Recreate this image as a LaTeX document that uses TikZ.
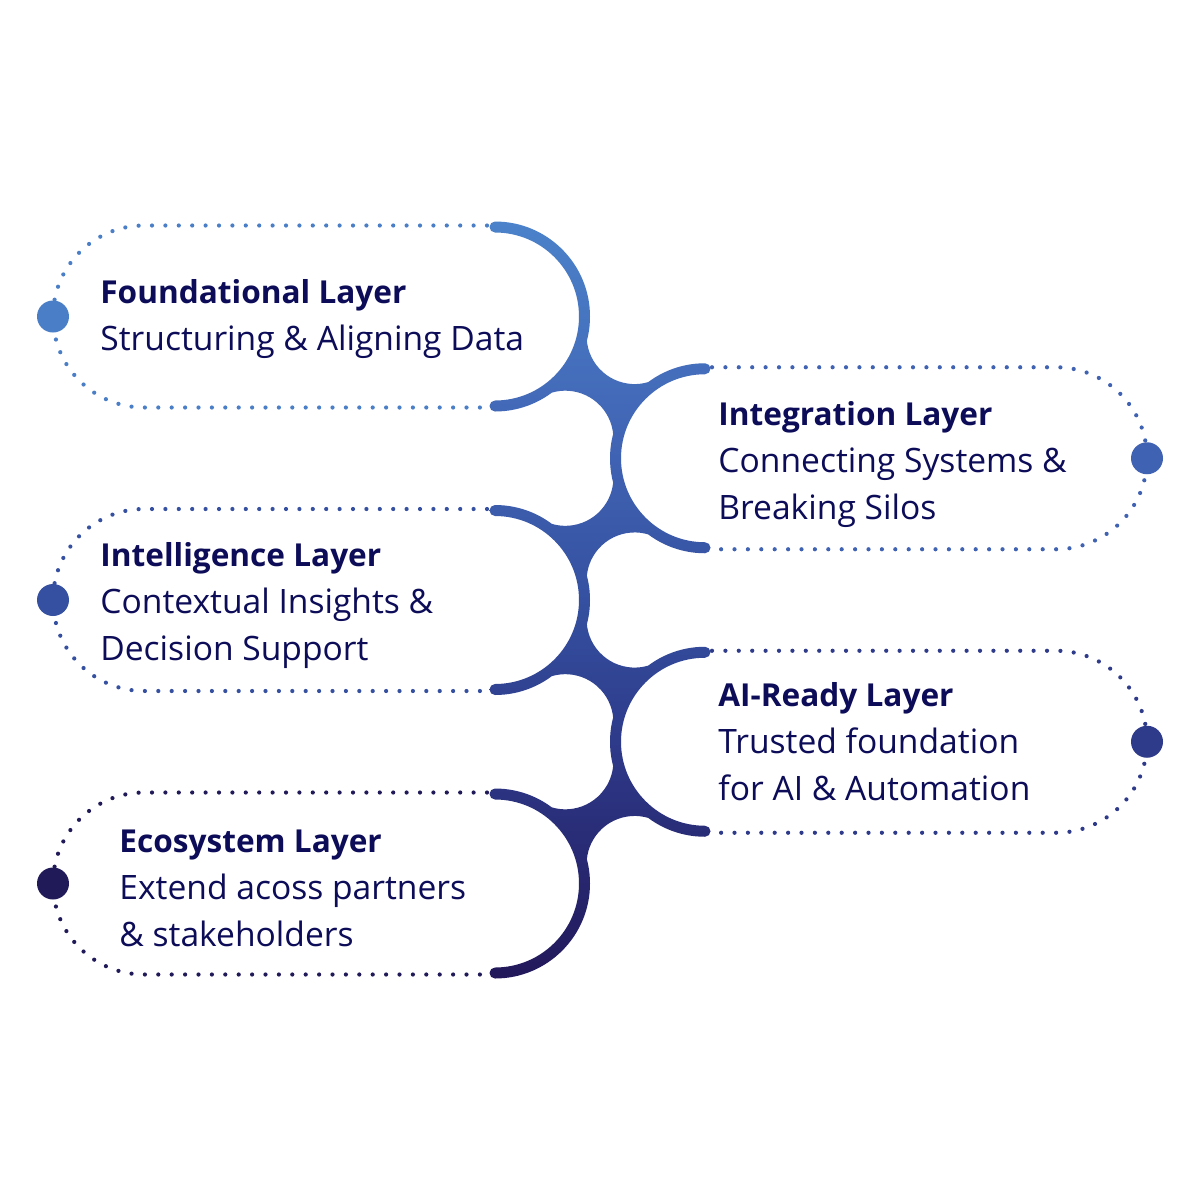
\documentclass[tikz,border=0pt]{standalone}
\usepackage{fontspec}
\setmainfont{Open Sans}
\definecolor{ink}{HTML}{0C0C58}
\definecolor{g1}{HTML}{4B82CA}
\definecolor{g2}{HTML}{4062B2}
\definecolor{g3}{HTML}{3550A0}
\definecolor{g4}{HTML}{2E3A8A}
\definecolor{g5}{HTML}{22185A}
\definecolor{c1}{HTML}{4A7FC7}
\definecolor{c2}{HTML}{4062B2}
\definecolor{c3}{HTML}{3550A0}
\definecolor{c4}{HTML}{2E3A8A}
\definecolor{c5}{HTML}{211A58}
\pgfdeclareverticalshading{chain}{100bp}{color(0bp)=(g5); color(25bp)=(g5); color(40.6bp)=(g4); color(50bp)=(g3); color(59.4bp)=(g2); color(75bp)=(g1); color(100bp)=(g1)}
\tikzset{
  titletext/.style={font=\fontsize{15.8}{19}\selectfont\bfseries, text=ink, anchor=base west, inner sep=0pt},
  bodytext/.style={font=\fontsize{16.8}{20}\selectfont, text=ink, anchor=base west, inner sep=0pt},
  dotline/.style={line width=2.1pt, line cap=round, dash pattern=on 0pt off 6.7pt},
  bigdot/.style={circle, inner sep=0pt, minimum size=16pt}
}
\begin{document}
\begin{tikzpicture}[x=0.5pt,y=-0.5pt]
\useasboundingbox (0,0) rectangle (1200,1200);
\fill[white] (0,0) rectangle (1200,1200);

% dotted capsules (left)
\draw[dotline, c1] (487,225.5) -- (144,225.5) arc[start angle=-90,end angle=-270,radius=91] -- (487,407.5);
\draw[dotline, c3] (487,509) -- (144,509) arc[start angle=-90,end angle=-270,radius=91] -- (487,691);
\draw[dotline, c5] (487,792.5) -- (144,792.5) arc[start angle=-90,end angle=-270,radius=91] -- (487,974.5);
% dotted capsules (right)
\draw[dotline, c2] (712,367.25) -- (1056,367.25) arc[start angle=-90,end angle=90,radius=91] -- (712,549.25);
\draw[dotline, c4] (712,650.75) -- (1056,650.75) arc[start angle=-90,end angle=90,radius=91] -- (712,832.75);

% big dots
\node[bigdot, fill=c1] (d1) at (53,316.5) {};
\node[bigdot, fill=c2] (d2) at (1147,458.25) {};
\node[bigdot, fill=c3] (d3) at (53,600) {};
\node[bigdot, fill=c4] (d4) at (1147,741.75) {};
\node[bigdot, fill=c5] (d5) at (53,883.5) {};

% the chain of arcs with junctions
\shade[shading=chain]
  % left rings
  (495,221.5) arc[start angle=-90,end angle=90,radius=95] arc[start angle=90,end angle=270,radius=5.5] arc[start angle=90,end angle=-90,radius=84] arc[start angle=90,end angle=270,radius=5.5] -- cycle
  (495,505) arc[start angle=-90,end angle=90,radius=95] arc[start angle=90,end angle=270,radius=5.5] arc[start angle=90,end angle=-90,radius=84] arc[start angle=90,end angle=270,radius=5.5] -- cycle
  (495,788.5) arc[start angle=-90,end angle=90,radius=95] arc[start angle=90,end angle=270,radius=5.5] arc[start angle=90,end angle=-90,radius=84] arc[start angle=90,end angle=270,radius=5.5] -- cycle
  % right rings
  (705,553.25) arc[start angle=90,end angle=270,radius=95] arc[start angle=270,end angle=450,radius=5.5] arc[start angle=270,end angle=90,radius=84] arc[start angle=-90,end angle=90,radius=5.5] -- cycle
  (705,836.75) arc[start angle=90,end angle=270,radius=95] arc[start angle=270,end angle=450,radius=5.5] arc[start angle=270,end angle=90,radius=84] arc[start angle=-90,end angle=90,radius=5.5] -- cycle
  % junctions (type 1: right circle below)
  (495,316.5) ++(60.06:93) arc[start angle=60.06,end angle=7.98,radius=93] arc[start angle=187.98,end angle=60.06,radius=48] arc[start angle=240.06,end angle=187.98,radius=93] arc[start angle=7.98,end angle=-119.94,radius=48] -- cycle
  (495,600) ++(60.06:93) arc[start angle=60.06,end angle=7.98,radius=93] arc[start angle=187.98,end angle=60.06,radius=48] arc[start angle=240.06,end angle=187.98,radius=93] arc[start angle=7.98,end angle=-119.94,radius=48] -- cycle
  % junctions (type 2: right circle above)
  (495,600) ++(-60.06:93) arc[start angle=119.94,end angle=-7.98,radius=48] arc[start angle=-187.98,end angle=-240.06,radius=93] arc[start angle=-60.06,end angle=-187.98,radius=48] arc[start angle=-7.98,end angle=-60.06,radius=93] -- cycle
  (495,883.5) ++(-60.06:93) arc[start angle=119.94,end angle=-7.98,radius=48] arc[start angle=-187.98,end angle=-240.06,radius=93] arc[start angle=-60.06,end angle=-187.98,radius=48] arc[start angle=-7.98,end angle=-60.06,radius=93] -- cycle;

% texts
\node[titletext] (t1) at (100,303) {Foundational Layer};
\node[bodytext] (b1) at (100,350) {Structuring \& Aligning Data};
\node[titletext] (t2) at (718,425) {Integration Layer};
\node[bodytext] (b2a) at (718,472) {Connecting Systems \&};
\node[bodytext] (b2b) at (718,519) {Breaking Silos};
\node[titletext] (t3) at (100,566) {Intelligence Layer};
\node[bodytext] (b3a) at (100,613) {Contextual Insights \&};
\node[bodytext] (b3b) at (100,660) {Decision Support};
\node[titletext] (t4) at (718,706) {AI-Ready Layer};
\node[bodytext] (b4a) at (718,753) {Trusted foundation};
\node[bodytext] (b4b) at (718,800) {for AI \& Automation};
\node[titletext] (t5) at (119,852) {Ecosystem Layer};
\node[bodytext] (b5a) at (119,899) {Extend acoss partners};
\node[bodytext] (b5b) at (119,946) {\& stakeholders};
\end{tikzpicture}
\end{document}
